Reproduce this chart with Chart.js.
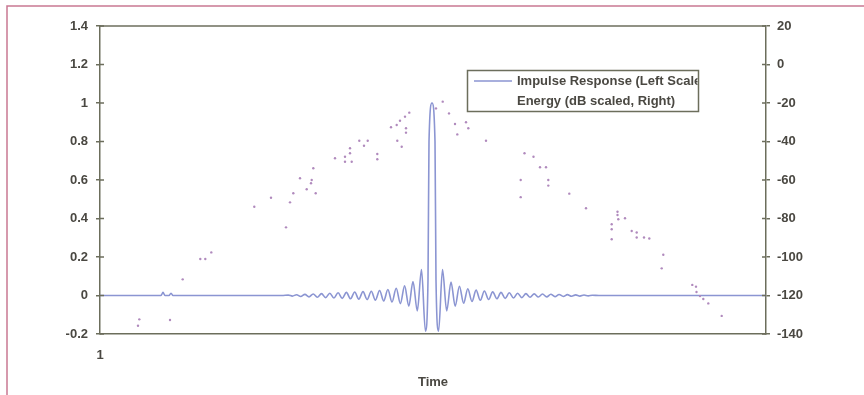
<!DOCTYPE html>
<html><head><meta charset="utf-8">
<script src="https://cdn.jsdelivr.net/npm/chart.js@4.4.0/dist/chart.umd.min.js"></script>
<style>html,body{margin:0;padding:0;background:#fff;}canvas{display:block;}</style>
</head><body>
<canvas id="c" width="864" height="395"></canvas>
<script>
// ---- data (time index on x) ----
const impulseT = [1, 62, 64, 66, 70, 72, 74, 183,
  189.3, 193.4, 197.6, 201.7, 205.9, 210.0, 214.2, 218.3, 222.5, 226.6, 230.8, 234.9,
  239.1, 243.2, 247.4, 251.5, 255.7, 259.8, 264.0, 268.1, 272.3, 276.4, 280.6, 284.7,
  288.9, 293.0, 297.2, 301.4, 305.6, 309.8, 314.0, 318.3, 322.5, 326.4,
  329, 330, 333, 336, 337,
  339.6, 343.5, 347.7, 352.0, 356.2, 360.4, 364.6, 368.8, 373.0, 377.1, 381.3, 385.4,
  389.6, 393.7, 397.9, 402.0, 406.2, 410.3, 414.5, 418.6, 422.8, 426.9, 431.1, 435.2,
  439.4, 443.5, 447.7, 451.8, 456.0, 460.1, 464.3, 468.4, 472.6, 476.7, 480.9, 485.0,
  489.2, 493.3, 500, 667];
const impulseV = [0, 0, 0.016, 0, 0, 0.012, 0, 0,
  0.002, -0.003, 0.004, -0.005, 0.006, -0.007, 0.008, -0.009, 0.010, -0.011, 0.012, -0.013,
  0.014, -0.015, 0.016, -0.017, 0.018, -0.019, 0.020, -0.021, 0.022, -0.024, 0.026, -0.028,
  0.031, -0.034, 0.038, -0.042, 0.050, -0.055, 0.072, -0.080, 0.135, -0.185,
  0.08, 0.80, 1.00, 0.80, 0.08,
  -0.185, 0.135, -0.080, 0.070, -0.055, 0.048, -0.040, 0.035, -0.031, 0.028, -0.025, 0.023,
  -0.021, 0.019, -0.017, 0.016, -0.015, 0.014, -0.013, 0.012, -0.011, 0.010, -0.009, 0.0085,
  -0.008, 0.0075, -0.007, 0.0065, -0.006, 0.0055, -0.005, 0.0045, -0.004, 0.0035, -0.003, 0.0025,
  -0.002, 0.0015, 0, 0];

const energyT = [39, 40.3, 71, 83.7, 101.3, 106.3, 112.3, 155.3, 172, 187, 191, 194.3,
  201, 207.7, 212, 212.7, 216.7, 214.3, 236, 246, 246, 252.7, 251, 251, 260.3, 265, 268.7,
  278.3, 278.3, 292, 297.7, 298.3, 302.7, 301, 306, 307, 307, 310.3,
  337, 343.7, 350, 356, 358.3, 367, 369.3, 387, 425.5, 434.5, 441, 447, 421.7, 449.3, 449.3,
  421.7, 470.3, 487, 518.5, 518.5, 519.3, 526, 512.7, 512.7, 512.7, 532.7, 537.7, 537.7,
  545, 550.3, 564.3, 562.7, 593.3, 597, 597.5, 601, 604.3, 609.3, 622.7];
const energyDb = [-135.7, -132.4, -132.7, -111.6, -101.0, -101.0, -97.6, -73.9, -69.2, -84.6, -71.6, -66.9,
  -59.1, -64.8, -61.7, -60.0, -66.9, -53.9, -48.7, -47.9, -50.5, -50.5, -43.5, -46.1, -39.6, -42.2, -39.6,
  -46.5, -49.2, -32.6, -31.4, -39.6, -42.7, -29.2, -27.1, -33.1, -35.4, -25.0,
  -22.8, -19.3, -25.4, -30.9, -36.3, -30.0, -33.1, -39.6, -46.1, -47.9, -53.4, -53.4, -60.0, -60.0, -62.9,
  -68.9, -67.1, -74.7, -76.5, -78.2, -80.4, -79.9, -83.0, -85.6, -90.8, -86.5, -87.3, -89.9,
  -89.9, -90.4, -98.8, -105.9, -114.5, -115.4, -118.2, -120.3, -121.8, -124.1, -130.6];

const xTickValues = [1];
const xTickLabels = ['1'];
const leftTickValues = [-0.2, 0, 0.2, 0.4, 0.6, 0.8, 1, 1.2, 1.4];
const leftTickLabels = ['-0.2', '0', '0.2', '0.4', '0.6', '0.8', '1', '1.2', '1.4'];
const rightTickValues = [-140, -120, -100, -80, -60, -40, -20, 0, 20];
const rightTickLabels = ['-140', '-120', '-100', '-80', '-60', '-40', '-20', '0', '20'];
const seriesNames = ['Impulse Response (Left Scale)', 'Energy (dB scaled, Right)'];
const xTitle = 'Time';

// ---- styles ----
const axisColor = '#6c6e5c';
const textColor = '#4a4842';
const lineColor = '#8b95d2';
const dotColor = '#b08abd';
const tickFont = {family: 'Arial', size: 13, weight: 'bold'};

const decor = {
  id: 'decor',
  beforeDraw(chart) {
    const ctx = chart.ctx;
    ctx.save();
    ctx.fillStyle = '#fff';
    ctx.fillRect(0, 0, chart.width, chart.height);
    ctx.strokeStyle = '#c97892';
    ctx.lineWidth = 1.5;
    ctx.beginPath();
    ctx.moveTo(7, chart.height);
    ctx.lineTo(7, 6);
    ctx.lineTo(chart.width, 6);
    ctx.stroke();
    ctx.restore();
  },
  afterDraw(chart) {
    const ctx = chart.ctx, a = chart.chartArea;
    ctx.save();
    ctx.strokeStyle = axisColor;
    ctx.lineWidth = 1.5;
    ctx.beginPath();
    ctx.moveTo(a.left, a.top); ctx.lineTo(a.right, a.top);
    ctx.stroke();
    // inward tick marks
    const ys = chart.scales.y, y2 = chart.scales.y2;
    ctx.beginPath();
    ys.ticks.forEach(t => { const p = ys.getPixelForValue(t.value); ctx.moveTo(a.left, p); ctx.lineTo(a.left + 4, p); });
    y2.ticks.forEach(t => { const p = y2.getPixelForValue(t.value); ctx.moveTo(a.right - 4, p); ctx.lineTo(a.right, p); });
    ctx.stroke();
    // legend box
    const bx = a.left + 367.5, by = 70.5, bw = 231, bh = 41;
    ctx.lineWidth = 1.5;
    ctx.strokeStyle = axisColor;
    ctx.fillStyle = '#fff';
    ctx.fillRect(bx, by, bw, bh);
    ctx.strokeRect(bx, by, bw, bh);
    ctx.beginPath(); ctx.rect(bx, by, bw - 1, bh); ctx.clip();
    ctx.strokeStyle = chart.data.datasets[0].borderColor;
    ctx.lineWidth = 1.6;
    ctx.beginPath(); ctx.moveTo(bx + 6.5, by + 10.5); ctx.lineTo(bx + 44.5, by + 10.5); ctx.stroke();
    ctx.fillStyle = textColor;
    ctx.font = 'bold 13px Arial';
    ctx.textBaseline = 'middle';
    ctx.textAlign = 'left';
    ctx.fillText(chart.data.datasets[0].label, bx + 49.5, by + 11);
    ctx.fillText(chart.data.datasets[1].label, bx + 49.5, by + 30.5);
    ctx.restore();
  }
};

new Chart(document.getElementById('c'), {
  type: 'scatter',
  data: {
    datasets: [
      {
        label: seriesNames[0],
        data: impulseT.map((t, i) => ({x: t, y: impulseV[i]})),
        yAxisID: 'y', showLine: true, borderColor: lineColor, backgroundColor: lineColor,
        borderWidth: 1.6, pointRadius: 0, cubicInterpolationMode: 'monotone', order: 2
      },
      {
        label: seriesNames[1],
        data: energyT.map((t, i) => ({x: t, y: energyDb[i]})),
        yAxisID: 'y2', showLine: false, pointRadius: 1.2, pointBorderWidth: 0,
        backgroundColor: dotColor, borderColor: dotColor, order: 1
      }
    ]
  },
  options: {
    responsive: false, animation: false, devicePixelRatio: 1,
    layout: {padding: {top: 26, left: 0, right: 0, bottom: 0}},
    plugins: {legend: {display: false}, tooltip: {enabled: false}},
    scales: {
      x: {
        type: 'linear', min: 1, max: 667,
        afterBuildTicks: s => { s.ticks = xTickValues.map(v => ({value: v})); },
        afterFit: s => { s.height = 61; },
        ticks: {callback: (v, i) => xTickLabels[i], padding: 14, font: tickFont, color: textColor, maxRotation: 0, autoSkip: false},
        grid: {display: true, drawOnChartArea: false, drawTicks: false},
        border: {display: true, color: axisColor, width: 1.5},
        title: {display: true, text: xTitle, font: tickFont, color: textColor, padding: {top: 0, bottom: 5}}
      },
      y: {
        position: 'left', min: -0.2, max: 1.4,
        afterBuildTicks: s => { s.ticks = leftTickValues.map(v => ({value: v})); },
        afterFit: s => { s.width = 100; },
        ticks: {callback: (v, i) => leftTickLabels[i], padding: 8, font: tickFont, color: textColor, autoSkip: false},
        grid: {display: true, drawOnChartArea: false, drawTicks: true, tickLength: 4, color: axisColor, lineWidth: 1.5},
        border: {display: true, color: axisColor, width: 1.5}
      },
      y2: {
        position: 'right', min: -140, max: 20,
        afterBuildTicks: s => { s.ticks = rightTickValues.map(v => ({value: v})); },
        afterFit: s => { s.width = 98; },
        ticks: {callback: (v, i) => rightTickLabels[i], padding: 7, font: tickFont, color: textColor, autoSkip: false},
        grid: {display: true, drawOnChartArea: false, drawTicks: true, tickLength: 4, color: axisColor, lineWidth: 1.5},
        border: {display: true, color: axisColor, width: 1.5}
      }
    }
  },
  plugins: [decor]
});
</script>
</body></html>
